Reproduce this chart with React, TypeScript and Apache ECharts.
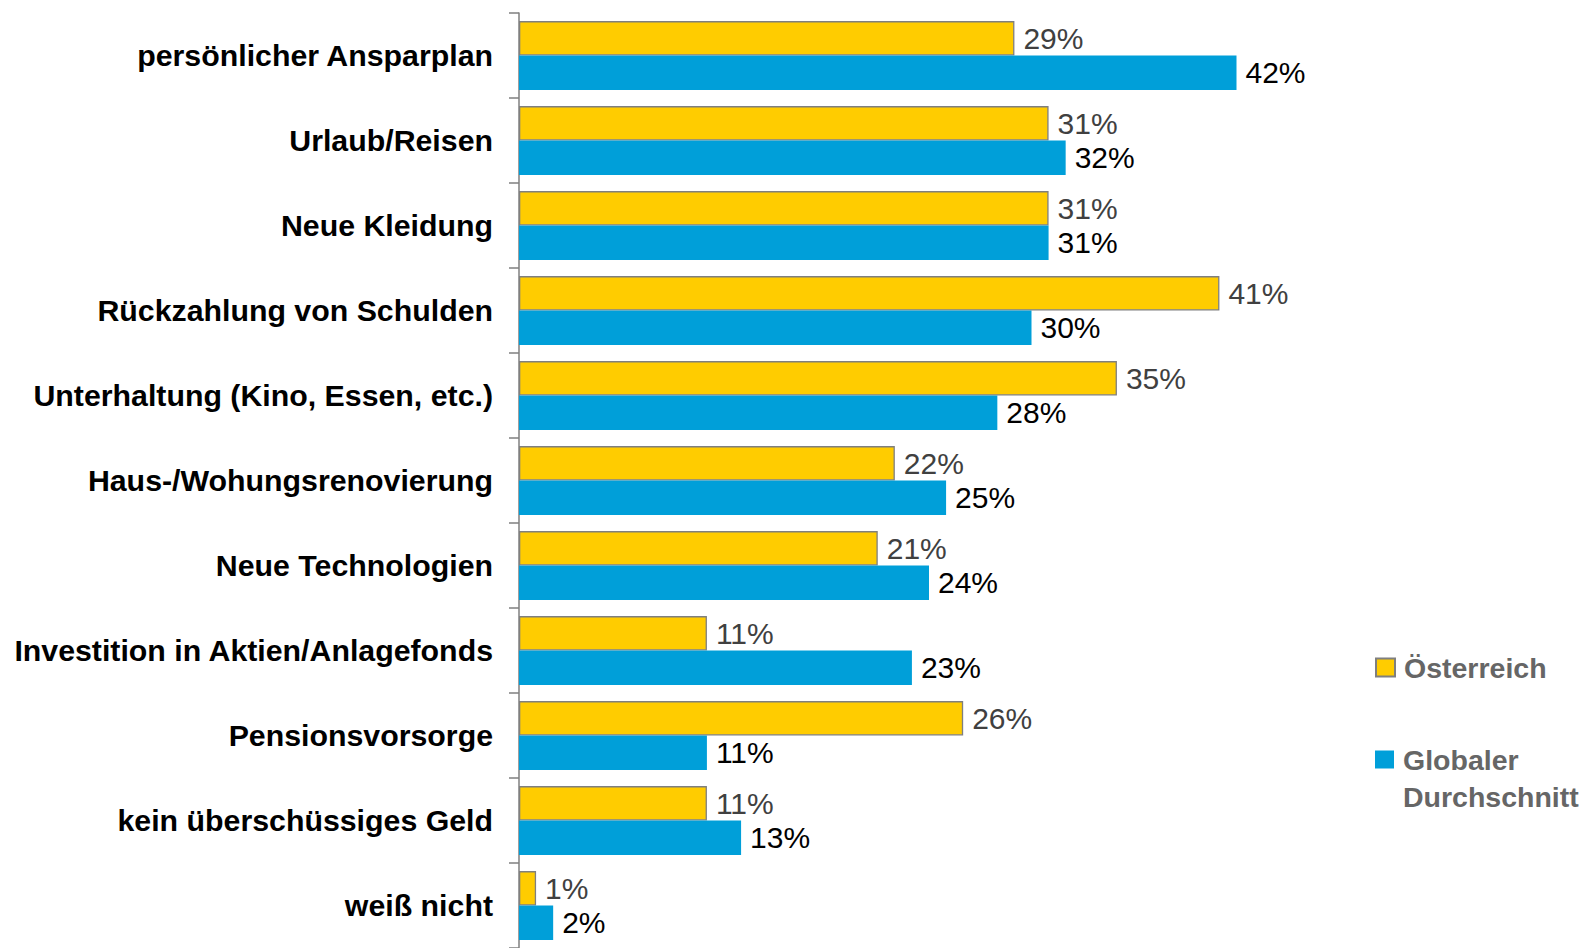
import React, { useEffect, useRef } from "react";
import * as echarts from "echarts";

const categories = [
  "persönlicher Ansparplan",
  "Urlaub/Reisen",
  "Neue Kleidung",
  "Rückzahlung von Schulden",
  "Unterhaltung (Kino, Essen, etc.)",
  "Haus-/Wohungsrenovierung",
  "Neue Technologien",
  "Investition in Aktien/Anlagefonds",
  "Pensionsvorsorge",
  "kein überschüssiges Geld",
  "weiß nicht",
];
const austria = [29, 31, 31, 41, 35, 22, 21, 11, 26, 11, 1];
const globalAvg = [42, 32, 31, 30, 28, 25, 24, 23, 11, 13, 2];
const seriesNames = ["Österreich", "Globaler Durchschnitt"];

const FONT = "'Liberation Sans', Arial, Helvetica, sans-serif";
const LEGEND_SIZE = 28.5;
const legendRich = {
  t: {
    fontFamily: FONT,
    fontWeight: "bold",
    fontSize: LEGEND_SIZE,
    color: "#666666",
    padding: [0, 0, 0, 4],
  },
};

export default function App() {
  const ref = useRef<HTMLDivElement>(null);
  useEffect(() => {
    if (!ref.current) return;
    const chart = echarts.init(ref.current, undefined, { renderer: "svg" });
    chart.setOption({
      animation: false,
      backgroundColor: "#ffffff",
      grid: { left: 519, top: 13, width: 1025, height: 940 },
      legend: [
        {
          data: [seriesNames[0]],
          orient: "vertical",
          left: 1375,
          top: 653,
          padding: 0,
          itemWidth: 19,
          itemHeight: 18,
          icon: "rect",
          formatter: (n: string) => `{t|${n}}`,
          textStyle: { rich: legendRich },
        },
        {
          data: [seriesNames[1]],
          orient: "vertical",
          left: 1375,
          top: 745,
          padding: 0,
          itemWidth: 19,
          itemHeight: 18,
          icon: "rect",
          formatter: (n: string) => `{t|${n.split(" ")[0]}}`,
          textStyle: { rich: legendRich },
        },
      ],
      graphic: [
        {
          type: "text",
          left: 1403,
          top: 782,
          style: {
            text: seriesNames[1].split(" ")[1],
            fontFamily: FONT,
            fontWeight: "bold",
            fontSize: LEGEND_SIZE,
            fill: "#666666",
          },
        },
      ],
      xAxis: {
        type: "value",
        min: 0,
        max: 60,
        show: false,
        splitLine: { show: false },
      },
      yAxis: {
        type: "category",
        data: categories,
        inverse: true,
        axisLine: { show: true, lineStyle: { color: "#7f7f7f", width: 1.5 } },
        axisTick: { show: true, length: 10, lineStyle: { color: "#7f7f7f", width: 1.5 } },
        axisLabel: {
          margin: 26,
          fontFamily: FONT,
          fontWeight: "bold",
          fontSize: 30.3,
          color: "#000000",
        },
      },
      series: [
        {
          name: seriesNames[0],
          type: "bar",
          data: austria,
          barGap: "0%",
          barCategoryGap: "19%",
          itemStyle: { color: "#FFCC00", borderColor: "#7f7f7f", borderWidth: 1.3 },
          label: {
            show: true,
            position: "right",
            distance: 9,
            formatter: "{c}%",
            fontFamily: FONT,
            fontSize: 30,
            color: "#404040",
          },
        },
        {
          name: seriesNames[1],
          type: "bar",
          data: globalAvg,
          barGap: "0%",
          barCategoryGap: "19%",
          itemStyle: { color: "#009FD9" },
          label: {
            show: true,
            position: "right",
            distance: 9,
            formatter: "{c}%",
            fontFamily: FONT,
            fontSize: 30,
            color: "#000000",
          },
        },
      ],
    });
    return () => chart.dispose();
  }, []);
  return (
    <div
      ref={ref}
      style={{ position: "fixed", left: 0, top: 0, width: 1596, height: 948, background: "#fff" }}
    />
  );
}
